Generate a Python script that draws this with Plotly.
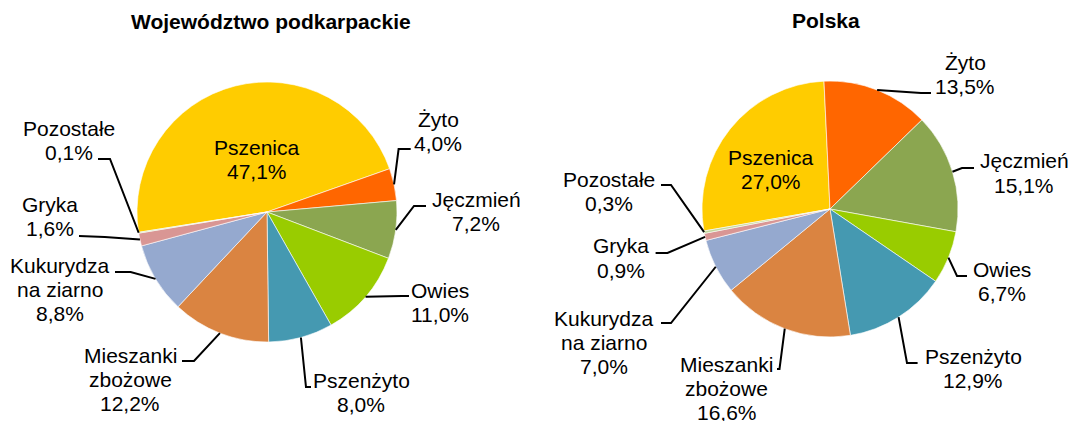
import math
import plotly.graph_objects as go

W, H = 1072, 421

# ---------------- data ----------------
categories = ["Pszenica", "Żyto", "Jęczmień", "Owies", "Pszenżyto",
              "Mieszanki zbożowe", "Kukurydza na ziarno", "Gryka", "Pozostałe"]
label_lines = [["Pszenica"], ["Żyto"], ["Jęczmień"], ["Owies"], ["Pszenżyto"],
               ["Mieszanki", "zbożowe"], ["Kukurydza", "na ziarno"], ["Gryka"], ["Pozostałe"]]
podkarpackie = [47.1, 4.0, 7.2, 11.0, 8.0, 12.2, 8.8, 1.6, 0.1]
polska = [27.0, 13.5, 15.1, 6.7, 12.9, 16.6, 7.0, 0.9, 0.3]
titles = ["Województwo podkarpackie", "Polska"]
colors = ["#FFCC00", "#FF6600", "#8BA650", "#99CC00", "#4599B1",
          "#DA8441", "#95A9CF", "#D99694", "#C3D69B"]

# ---------------- layout (pixels) ----------------
pies = [
    dict(values=podkarpackie, title=titles[0], cx=267, cy=212, r=130, rot=261,
         title_xy=(271, 22),
         labels=[(257, 147, None, None),
                 (438, 119, (398.6, 149), (410.7, 149)),
                 (476, 199, (414, 206), (426, 206)),
                 (440, 290, (402, 296), (409, 296)),
                 (361, 380, (306, 387), (311, 387)),
                 (130, 355, (194, 361), (182, 361)),
                 (60, 265, (130.6, 272), (115, 272)),
                 (50, 204, (104.8, 237), (79, 236)),
                 (69, 128, (110, 159), (98, 159))]),
    dict(values=polska, title=titles[1], cx=830, cy=209, r=128, rot=260.1,
         title_xy=(826, 20),
         labels=[(771, 157, None, None),
                 (965, 62, (921, 93), (931, 93)),
                 (1024, 161, (962, 168), (974, 168)),
                 (1002, 269, (957, 276), (967, 276)),
                 (973, 356, (907, 363), (917.6, 363)),
                 (727, 364, (779.5, 369), (777, 369)),
                 (604, 318, (671, 323), (661, 323)),
                 (621, 246, (667.5, 253), (655.6, 253)),
                 (609, 179, (671, 185), (661, 185))]),
]

FONT = "Liberation Sans, Arial, sans-serif"
FS = 21
LINE_H = 24


def px(x, y):
    return x / W, 1 - y / H


fig = go.Figure()
annotations = []
shapes = []

for p in pies:
    cx, cy, r = p["cx"], p["cy"], p["r"]
    vals = p["values"]
    fig.add_trace(go.Pie(
        labels=categories, values=vals, sort=False, direction="clockwise",
        rotation=p["rot"], textinfo="none", hoverinfo="label+percent",
        marker=dict(colors=colors, line=dict(color="#FFFFFF", width=0.6)),
        domain=dict(x=[(cx - r) / W, (cx + r) / W],
                    y=[1 - (cy + r) / H, 1 - (cy - r) / H]),
        showlegend=False,
    ))
    tx, ty = px(*p["title_xy"])
    annotations.append(dict(x=tx, y=ty, xref="paper", yref="paper", showarrow=False,
                            text="<b>" + p["title"] + "</b>", xanchor="center", yanchor="middle",
                            font=dict(family=FONT, size=FS, color="#000000")))
    total = sum(vals)
    start = p["rot"]
    for i, v in enumerate(vals):
        ang = start + 360 * v / total
        mid = math.radians((start + ang) / 2)
        start = ang
        lx, ly, elbow, end = p["labels"][i]
        lines = label_lines[i] + [f"{v:.1f}".replace(".", ",") + "%"]
        for k, t in enumerate(lines):
            ax, ay = px(lx, ly + k * LINE_H)
            annotations.append(dict(x=ax, y=ay, xref="paper", yref="paper", showarrow=False,
                                    text=t, xanchor="center", yanchor="middle",
                                    font=dict(family=FONT, size=FS, color="#000000")))
        if elbow is not None:
            sx = cx + r * math.sin(mid)
            sy = cy - r * math.cos(mid)
            pts = [px(sx, sy), px(*elbow), px(*end)]
            path = "M {} {} L {} {} L {} {}".format(pts[0][0], pts[0][1], pts[1][0], pts[1][1],
                                                    pts[2][0], pts[2][1])
            shapes.append(dict(type="path", xref="paper", yref="paper", path=path,
                               line=dict(color="#000000", width=2)))

fig.update_layout(width=W, height=H, margin=dict(l=0, r=0, t=0, b=0),
                  paper_bgcolor="#FFFFFF", plot_bgcolor="#FFFFFF",
                  annotations=annotations, shapes=shapes)

fig.write_html("out.html", config={"displayModeBar": False},
               post_script="document.body.style.margin='0';document.body.style.overflow='hidden';")
